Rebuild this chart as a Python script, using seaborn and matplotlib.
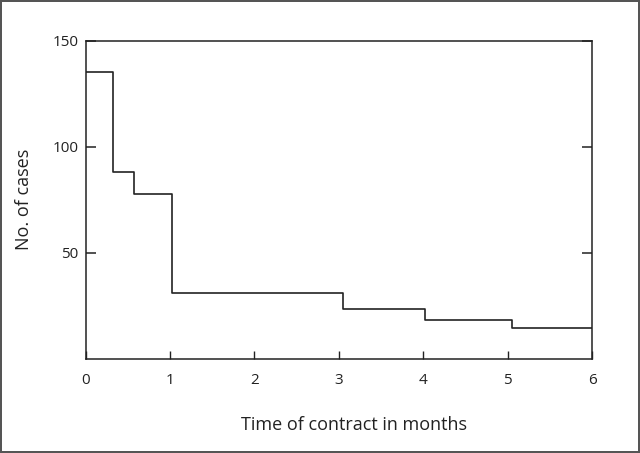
import numpy as np
import pandas as pd
import seaborn as sns
import matplotlib.pyplot as plt

# step points (months, cases)
months = [0, 0.33, 0.57, 1.02, 3.05, 4.02, 5.05, 6]
cases = [135, 88, 77.5, 31, 23.5, 18.5, 14.5, 14.5]
xticks = [0, 1, 2, 3, 4, 5, 6]
yticks = [50, 100, 150]

df = pd.DataFrame({'months': months, 'cases': cases})

sns.set_style('ticks')
plt.rcParams['font.family'] = ['Open Sans', 'DejaVu Sans']

fig = plt.figure(figsize=(6.4, 4.53), dpi=100, edgecolor='#555555', linewidth=1.5)
ax = fig.add_axes([0.1336, 0.2081, 0.7919, 0.7021])

sns.lineplot(data=df, x='months', y='cases', drawstyle='steps-post',
             color='#222222', linewidth=1.2, ax=ax)

ax.set_xlim(0, 6)
ax.set_ylim(0, 150)
ax.set_xticks(xticks)
ax.set_yticks(yticks)
ax.yaxis.set_ticks_position('both')
ax.tick_params(axis='x', direction='in', length=6, width=1, pad=10, labelsize=11,
               colors='#222222', top=False, bottom=True)
ax.tick_params(axis='y', direction='in', length=7, width=1.1, pad=5,
               labelsize=11, colors='#222222')
for s in ax.spines.values():
    s.set_visible(True)
    s.set_color('#222222')
    s.set_linewidth(1.1)

ax.set_xlabel('Time of contract in months', fontsize=13, color='#222222')
ax.xaxis.set_label_coords(0.529, -0.18)
ax.set_ylabel('No. of cases', fontsize=13, labelpad=14, color='#222222')

fig.savefig('out.png', dpi=100)
